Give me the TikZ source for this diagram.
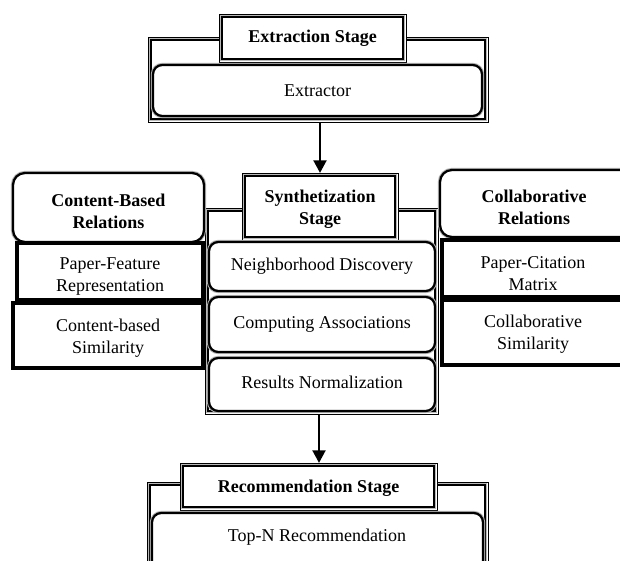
\documentclass[tikz,border=0pt]{standalone}
\usepackage{fontspec}
\setmainfont{Liberation Serif}
\usetikzlibrary{fit,arrows.meta}

\tikzset{
  base/.style={inner sep=0pt, outer sep=0pt},
  txt/.style={inner sep=0pt, align=center,
    font=\fontsize{13.5}{16.5}\selectfont},
  boldtxt/.style={txt, font=\bfseries\fontsize{13.5}{16.5}\selectfont},
  % stage outline: thin outer rule, grey gap, heavier inner rule
  stageframe/.style={base, draw=black, line width=0.7pt},
  stagehdr/.style={stageframe, fill=white},
  stagegap/.style={draw=gray!55, line width=1.1pt},
  stageinner/.style={draw=black, line width=1.5pt},
  stepbox/.style={base, fill=white, draw=black, line width=1.7pt,
    rounded corners=7pt, preaction={draw=gray!60, line width=3.2pt}},
  relhdr/.style={stepbox, rounded corners=9pt},
  relbox/.style={base, fill=white, draw=black, line width=2.3pt,
    preaction={draw=gray!60, line width=3.4pt}},
  flow/.style={draw=black, line width=2.2pt,
    -{Triangle[width=9.5pt,length=9.5pt]}}
}

% inner rules of a stage outline, inset from the named node's border
\newcommand\stageedges[1]{%
  \draw[stagegap] ([shift={(1.1pt,-1.1pt)}]#1.north west)
    rectangle ([shift={(-1.1pt,1.1pt)}]#1.south east);
  \draw[stageinner] ([shift={(2.4pt,-2.4pt)}]#1.north west)
    rectangle ([shift={(-2.4pt,2.4pt)}]#1.south east);
}

\begin{document}
\begin{tikzpicture}[x=0.75pt,y=-0.75pt]
\useasboundingbox (0,0) rectangle (620,560);
\clip (0,0) rectangle (620,560);
\fill[white] (0,0) rectangle (620,560);

% Extraction stage
\node[stageframe, fit={(148,37) (488,122)}] (extframe) {};
\stageedges{extframe}
\node[stagehdr, fit={(219,14) (406,62)}] (exthdr) {};
\stageedges{exthdr}
\node[boldtxt] (exthdrtxt) at (exthdr.center) {Extraction Stage};
\node[stepbox, fit={(153,65) (482,116)}] (extractor) {};
\node[txt] (extractortxt) at (extractor.center) {Extractor};

% Synthetization stage
\node[stageframe, fit={(205,208) (438,414)}] (synframe) {};
\stageedges{synframe}
\node[stagehdr, fit={(242,173) (398,240)}] (synhdr) {};
\stageedges{synhdr}
\node[boldtxt] (synhdrtxt) at (synhdr.center |- 0,209) {Synthetization\\Stage};
\node[stepbox, fit={(209,242) (435,291)}] (neigh) {};
\node[txt] (neightxt) at (neigh.center) {Neighborhood Discovery};
\node[stepbox, fit={(209,297) (435,352)}] (assoc) {};
\node[txt] (assoctxt) at (assoc.center) {Computing Associations};
\node[stepbox, fit={(209,358) (435,411)}] (norm) {};
\node[txt] (normtxt) at (norm.center |- 0,382) {Results Normalization};

% Content-based relations
\node[relhdr, fit={(13,173) (204,242)}] (cbhdr) {};
\node[boldtxt] (cbhdrtxt) at (cbhdr.center |- 0,211) {Content-Based\\Relations};
\node[relbox, fit={(17,243) (203,300)}] (pfr) {};
\node[txt] (pfrtxt) at (pfr.center |- 0,277) {Paper-Feature\\Representation};
\node[relbox, fit={(13,303) (203,368)}] (cbsim) {};
\node[txt] (cbsimtxt) at (cbsim.center |- 0,338) {Content-based\\Similarity};

% Collaborative relations
\node[relhdr, fit={(440,170) (640,237)}] (colhdr) {};
\node[boldtxt] (colhdrtxt) at (534,207) {Collaborative\\Relations};
\node[relbox, fit={(442,240) (640,297)}] (pcm) {};
\node[txt] (pcmtxt) at (533,274) {Paper-Citation\\Matrix};
\node[relbox, fit={(442,300) (640,365)}] (colsim) {};
\node[txt] (colsimtxt) at (533,334) {Collaborative\\Similarity};

% Recommendation stage
\node[stageframe, fit={(147,482) (488,590)}] (recframe) {};
\stageedges{recframe}
\node[stagehdr, fit={(180,463) (437,510)}] (rechdr) {};
\stageedges{rechdr}
\node[boldtxt] (rechdrtxt) at (rechdr.center |- 0,488) {Recommendation Stage};
\node[stepbox, fit={(152,513) (483,590)}] (topn) {};
\node[txt] (topntxt) at (317,537) {Top-N Recommendation};

% Flow between stages
\draw[flow] (extframe.south -| synhdr.north) -- (synhdr.north);
\draw[flow] (synframe.south -| 319,0) -- (rechdr.north -| 319,0);
\end{tikzpicture}
\end{document}
